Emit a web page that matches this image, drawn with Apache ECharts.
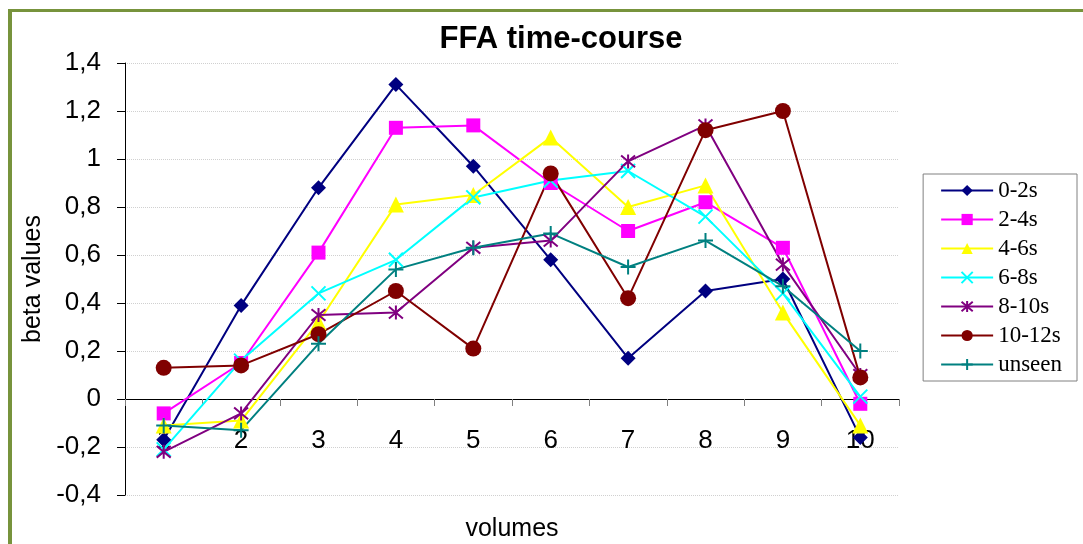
<!DOCTYPE html>
<html>
<head>
<meta charset="utf-8">
<script src="https://cdn.jsdelivr.net/npm/echarts@6/dist/echarts.min.js"></script>
<style>
html,body{margin:0;padding:0;background:#fff;}
#chart{width:1083px;height:544px;}
</style>
</head>
<body>
<div id="chart"></div>
<script>
// ---- data ----
const categories = ['1','2','3','4','5','6','7','8','9','10'];
const seriesNames = ['0-2s','2-4s','4-6s','6-8s','8-10s','10-12s','unseen'];
const s0_2   = [-0.17, 0.39, 0.88, 1.31, 0.97, 0.58, 0.17, 0.45, 0.50, -0.16];
const s2_4   = [-0.06, 0.15, 0.61, 1.13, 1.14, 0.90, 0.70, 0.82, 0.63, -0.02];
const s4_6   = [-0.11, -0.09, 0.32, 0.81, 0.85, 1.09, 0.80, 0.89, 0.36, -0.11];
const s6_8   = [-0.21, 0.16, 0.44, 0.58, 0.84, 0.91, 0.95, 0.76, 0.44, 0.01];
const s8_10  = [-0.22, -0.06, 0.35, 0.36, 0.63, 0.66, 0.99, 1.14, 0.56, 0.10];
const s10_12 = [0.13, 0.14, 0.27, 0.45, 0.21, 0.94, 0.42, 1.12, 1.20, 0.09];
const unseen = [-0.11, -0.13, 0.23, 0.54, 0.63, 0.69, 0.55, 0.66, 0.47, 0.20];
const seriesData = [s0_2, s2_4, s4_6, s6_8, s8_10, s10_12, unseen];
const yMin = -0.4, yMax = 1.4, yStep = 0.2;

const colors = ['#000080','#FF00FF','#FFFF00','#00FFFF','#800080','#800000','#008080'];
const symbols = ['diamond','rect','triangle',
  'path://M0,0L10,10M10,0L0,10',
  'path://M0,0L10,10M10,0L0,10M5,-1L5,11',
  'circle',
  'path://M5,0L5,10M0,5L10,5'];
const symbolSizes = [15, 14, 16, 14, 14, 16, 15];
const stroked = [false,false,false,true,true,false,true];

const chart = echarts.init(document.getElementById('chart'), null, {renderer:'canvas'});

const series = seriesNames.map((name, i) => ({
  name: name,
  type: 'line',
  data: seriesData[i],
  symbol: symbols[i],
  symbolSize: symbolSizes[i],
  showAllSymbol: true,
  animation: false,
  lineStyle: {color: colors[i], width: 2},
  itemStyle: stroked[i]
    ? {color: colors[i], borderColor: colors[i], borderWidth: 2}
    : {color: colors[i], borderWidth: 0}
}));

const option = {
  animation: false,
  backgroundColor: '#ffffff',
  title: {
    text: 'FFA time-course',
    left: 556, top: 19,
    textAlign: 'center',
    textStyle: {fontFamily: 'Liberation Sans, Arial', fontWeight: 'bold', fontSize: 31, color: '#000'}
  },
  legend: {
    orient: 'vertical',
    right: 6, top: 174,
    data: seriesNames,
    itemWidth: 52, itemHeight: 14,
    itemGap: 6,
    padding: [5, 15, 5, 17],
    borderColor: '#808080', borderWidth: 1,
    textStyle: {fontFamily: 'Liberation Serif, Times New Roman', fontSize: 23, color: '#000', lineHeight: 20}
  },
  grid: {left: 125, right: 184, top: 63, bottom: 49, containLabel: false, outerBoundsMode: 'none'},
  xAxis: {
    type: 'category',
    data: categories,
    boundaryGap: true,
    name: 'volumes',
    nameLocation: 'middle',
    nameGap: 22,
    nameTextStyle: {fontFamily: 'Liberation Sans, Arial', fontSize: 25, color: '#000'},
    axisLine: {onZero: true, lineStyle: {color: '#000', width: 1}},
    axisTick: {show: true, alignWithLabel: false, length: 7, lineStyle: {color: '#808080'}},
    axisLabel: {margin: -67, fontFamily: 'Liberation Sans, Arial', fontSize: 26, color: '#000'},
    splitLine: {show: false}
  },
  yAxis: {
    type: 'value',
    min: yMin, max: yMax, interval: yStep,
    name: 'beta values',
    nameLocation: 'middle',
    nameGap: 75,
    nameRotate: 90,
    nameTextStyle: {fontFamily: 'Liberation Sans, Arial', fontSize: 25, color: '#000'},
    axisLine: {show: true, lineStyle: {color: '#000', width: 1}},
    axisTick: {show: true, length: 8, lineStyle: {color: '#000'}},
    axisLabel: {
      margin: 24,
      fontFamily: 'Liberation Sans, Arial', fontSize: 26, color: '#000',
      formatter: v => String(+(+v).toFixed(1)).replace('.', ',')
    },
    splitLine: {show: true, lineStyle: {color: '#d0d0d0', type: 'dotted', width: 1}}
  },
  graphic: [
    {type: 'line', shape: {x1: 8, y1: 10.5, x2: 1083, y2: 10.5}, style: {stroke: '#77933C', lineWidth: 3}, silent: true},
    {type: 'line', shape: {x1: 10, y1: 9, x2: 10, y2: 544}, style: {stroke: '#77933C', lineWidth: 4}, silent: true}
  ],
  series: series
};
chart.setOption(option);
</script>
</body>
</html>
